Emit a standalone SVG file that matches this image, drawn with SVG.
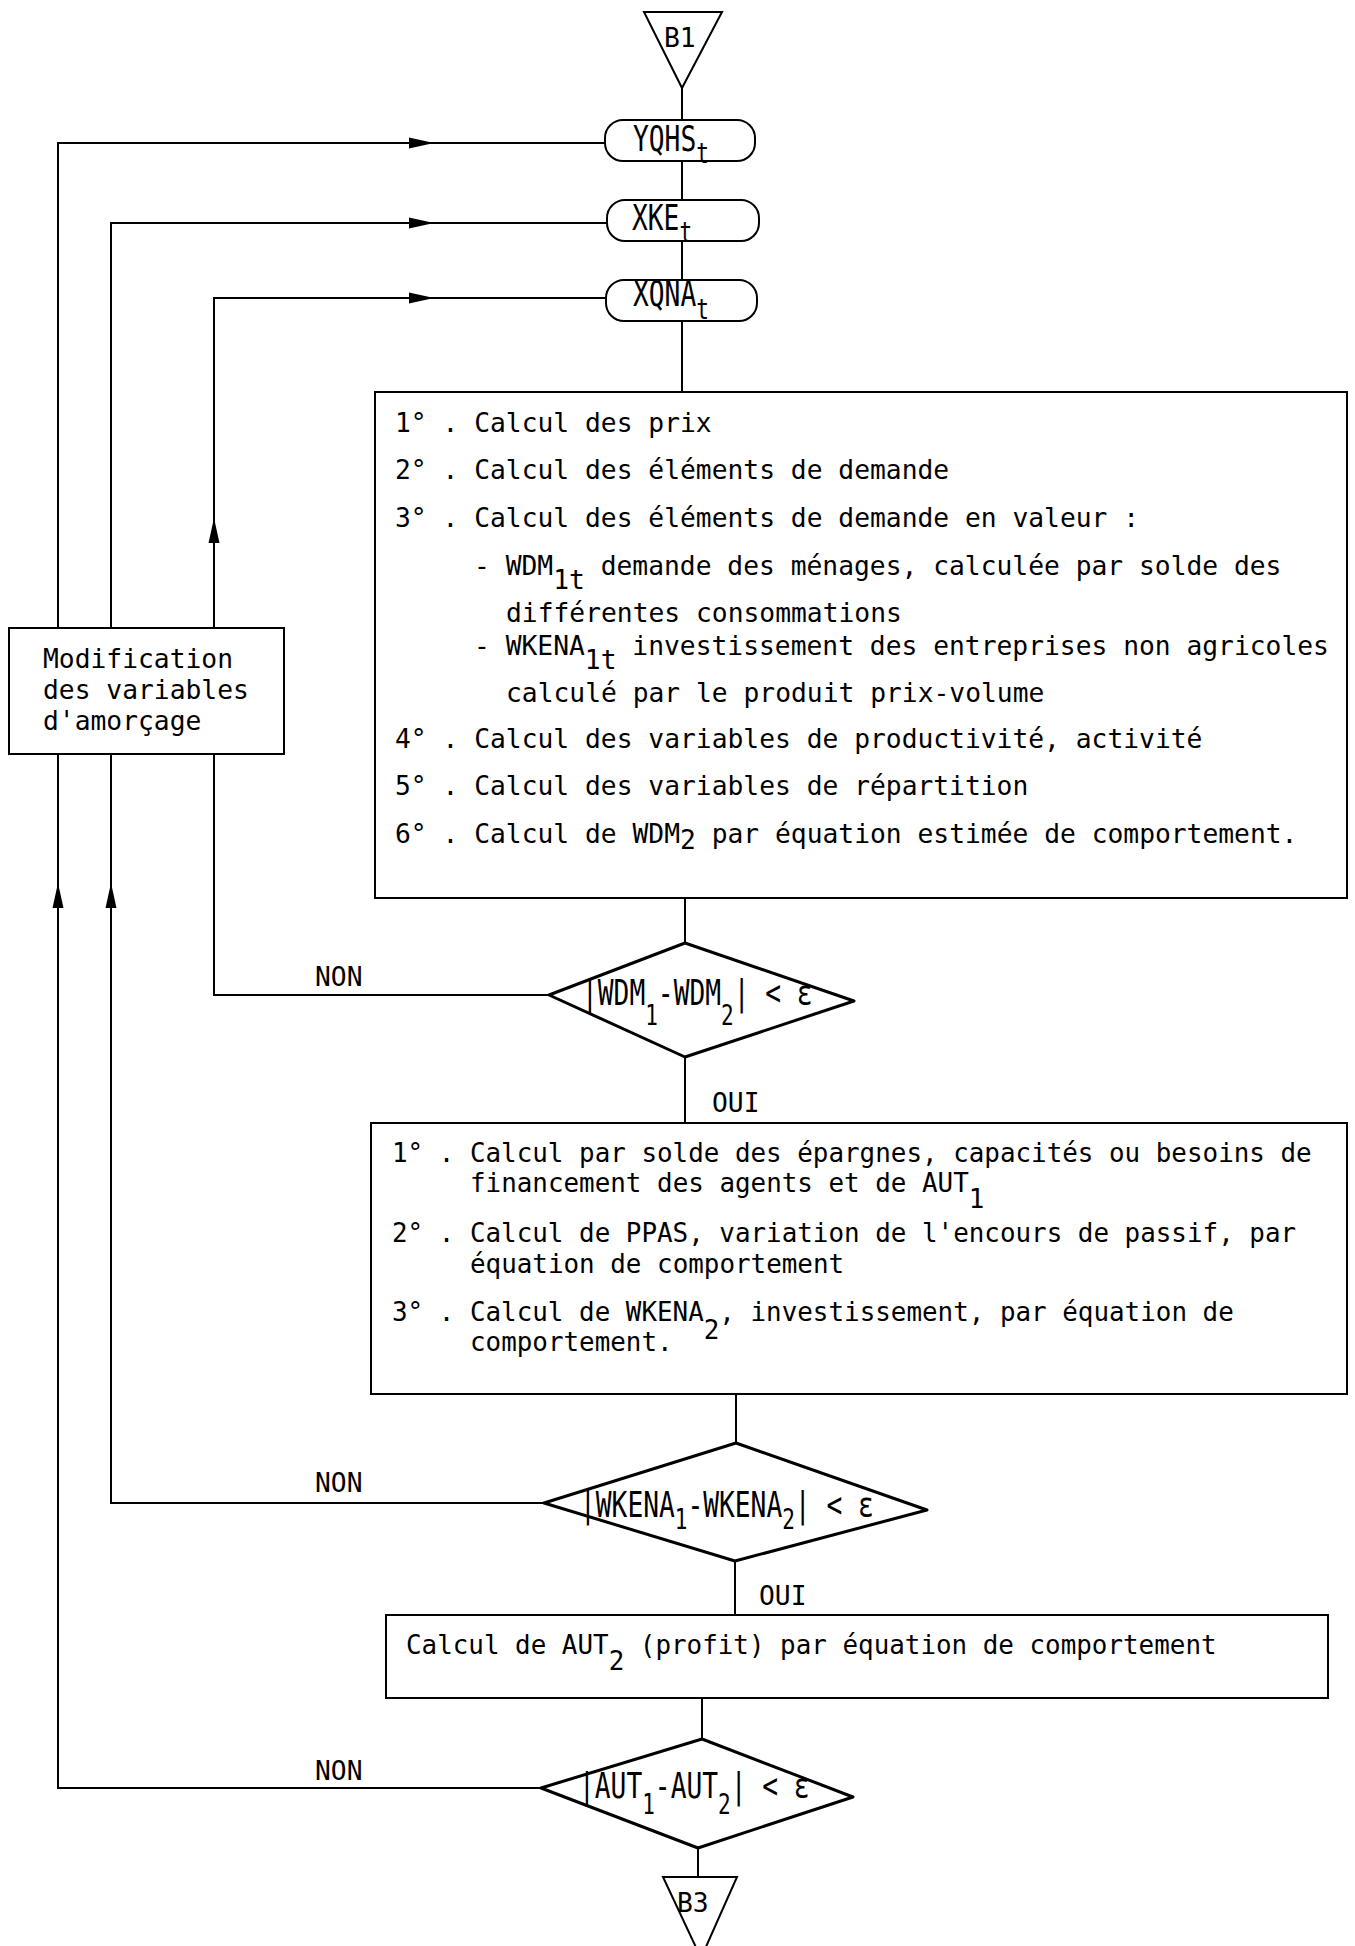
<svg xmlns="http://www.w3.org/2000/svg" width="1355" height="1946" viewBox="0 0 1355 1946">
<style>
 .ln{fill:none;stroke:#000;stroke-width:2}
 .sh{fill:#fff;stroke:#000;stroke-width:2}
 .dm{fill:#fff;stroke:#000;stroke-width:3;stroke-linejoin:round}
 text{font-family:"DejaVu Sans Mono","Liberation Mono",monospace;fill:#000}
 .t1{font-size:26.3px}
 .t2{font-size:25.9px}
 .c{font-size:35px}
 .cs{font-size:28px}
</style>
<defs>
 <path id="ar" d="M0,0 L-25,-5.5 L-25,5.5 Z" fill="#000"/>
</defs>
<rect width="1355" height="1946" fill="#fff"/>

<g id="connectors">
 <path class="ln" d="M682,88 V120 M682,161 V200 M682,241 V280 M682,321 V392"/>
 <path class="ln" d="M685,898 V943 M685,1057 V1123 M736,1394 V1443 M735,1561 V1615 M702,1698 V1739 M698,1848 V1877"/>
 <path class="ln" d="M549,995 H214 V754 M214,628 V298 H606"/>
 <path class="ln" d="M544,1503 H111 V754 M111,628 V223 H607"/>
 <path class="ln" d="M541,1788 H58 V754 M58,628 V143 H605"/>
 <use href="#ar" transform="translate(434,143)"/>
 <use href="#ar" transform="translate(434,223)"/>
 <use href="#ar" transform="translate(434,298)"/>
 <use href="#ar" transform="translate(214,518) rotate(-90)"/>
 <use href="#ar" transform="translate(111,883) rotate(-90)"/>
 <use href="#ar" transform="translate(58,883) rotate(-90)"/>
 <text class="t1" x="315" y="986">NON</text>
 <text class="t1" x="315" y="1492">NON</text>
 <text class="t1" x="315" y="1780">NON</text>
 <text class="t1" x="712" y="1112">OUI</text>
 <text class="t1" x="759" y="1605">OUI</text>
</g>

<g id="b1">
 <polygon class="sh" points="644,12 722,12 682,88"/>
 <text class="t1" x="664" y="47">B1</text>
</g>

<g id="yqhs">
 <rect class="sh" x="605" y="120" width="150" height="41" rx="18"/>
 <text class="c" transform="translate(633,151) scale(0.75,1)">YQHS<tspan class="cs" dy="12">t</tspan></text>
</g>
<g id="xke">
 <rect class="sh" x="607" y="200" width="152" height="41" rx="18"/>
 <text class="c" transform="translate(632,230) scale(0.75,1)">XKE<tspan class="cs" dy="12">t</tspan></text>
</g>
<g id="xqna">
 <rect class="sh" x="606" y="280" width="151" height="41" rx="18"/>
 <text class="c" transform="translate(633,306) scale(0.75,1)">XQNA<tspan class="cs" dy="13">t</tspan></text>
</g>

<g id="box1">
 <rect class="sh" x="375" y="392" width="972" height="506"/>
 <text class="t1" x="395" y="432">1° . Calcul des prix</text>
 <text class="t1" x="395" y="479">2° . Calcul des éléments de demande</text>
 <text class="t1" x="395" y="527">3° . Calcul des éléments de demande en valeur :</text>
 <text class="t1" x="474" y="575">- WDM<tspan dy="14">1t</tspan><tspan dy="-14"> demande des ménages, calculée par solde des</tspan></text>
 <text class="t1" x="506" y="622">différentes consommations</text>
 <text class="t1" x="474" y="655">- WKENA<tspan dy="14">1t</tspan><tspan dy="-14"> investissement des entreprises non agricoles</tspan></text>
 <text class="t1" x="506" y="702">calculé par le produit prix-volume</text>
 <text class="t1" x="395" y="748">4° . Calcul des variables de productivité, activité</text>
 <text class="t1" x="395" y="795">5° . Calcul des variables de répartition</text>
 <text class="t1" x="395" y="843">6° . Calcul de WDM<tspan dy="6">2</tspan><tspan dy="-6"> par équation estimée de comportement.</tspan></text>
</g>

<g id="modif">
 <rect class="sh" x="9" y="628" width="275" height="126"/>
 <text class="t1" x="43" y="668">Modification</text>
 <text class="t1" x="43" y="699">des variables</text>
 <text class="t1" x="43" y="730">d'amorçage</text>
</g>

<g id="test1">
 <polygon class="dm" points="685,943 854,1001 685,1057 549,995"/>
 <text class="c" transform="translate(582,1005) scale(0.75,1)">|WDM<tspan class="cs" dy="20">1</tspan><tspan dy="-20">-WDM</tspan><tspan class="cs" dy="20">2</tspan><tspan dy="-20">| &lt; ε</tspan></text>
</g>

<g id="box2">
 <rect class="sh" x="371" y="1123" width="976" height="271"/>
 <text class="t2" x="392" y="1162">1° . Calcul par solde des épargnes, capacités ou besoins de</text>
 <text class="t2" x="470" y="1192">financement des agents et de AUT<tspan dy="16">1</tspan></text>
 <text class="t2" x="392" y="1242">2° . Calcul de PPAS, variation de l'encours de passif, par</text>
 <text class="t2" x="470" y="1273">équation de comportement</text>
 <text class="t2" x="392" y="1321">3° . Calcul de WKENA<tspan dy="18">2</tspan><tspan dy="-18">, investissement, par équation de</tspan></text>
 <text class="t2" x="470" y="1351">comportement.</text>
</g>

<g id="test2">
 <polygon class="dm" points="736,1443 927,1510 735,1561 544,1503"/>
 <text class="c" transform="translate(580,1517) scale(0.75,1)">|WKENA<tspan class="cs" dy="12">1</tspan><tspan dy="-12">-WKENA</tspan><tspan class="cs" dy="12">2</tspan><tspan dy="-12">| &lt; ε</tspan></text>
</g>

<g id="box3">
 <rect class="sh" x="386" y="1615" width="942" height="83"/>
 <text class="t2" x="406" y="1654">Calcul de AUT<tspan dy="16">2</tspan><tspan dy="-16"> (profit) par équation de comportement</tspan></text>
</g>

<g id="test3">
 <polygon class="dm" points="702,1739 853,1797 698,1848 541,1788"/>
 <text class="c" transform="translate(579,1798) scale(0.75,1)">|AUT<tspan class="cs" dy="16">1</tspan><tspan dy="-16">-AUT</tspan><tspan class="cs" dy="16">2</tspan><tspan dy="-16">| &lt; ε</tspan></text>
</g>

<g id="b3">
 <polygon class="sh" points="663,1877 737,1877 701,1958"/>
 <text class="t1" x="677" y="1912">B3</text>
</g>
</svg>
